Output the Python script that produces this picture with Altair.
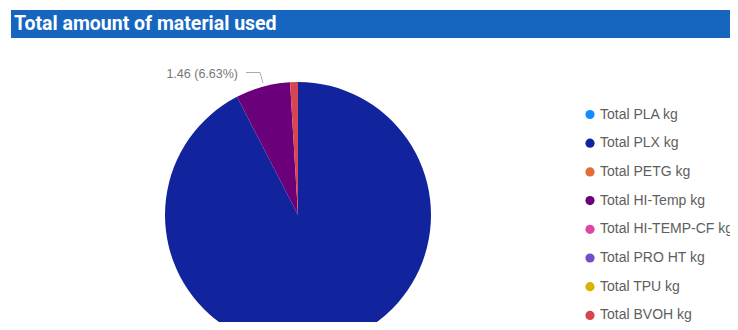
import altair as alt
import pandas as pd

title_text = "Total amount of material used"
materials = ["Total PLA kg", "Total PLX kg", "Total PETG kg", "Total HI-Temp kg",
             "Total HI-TEMP-CF kg", "Total PRO HT kg", "Total TPU kg", "Total BVOH kg"]
values = [0.0, 20.35, 0.0, 1.46, 0.0, 0.0, 0.0, 0.21]
colors = ["#118DFF", "#12239E", "#E66C37", "#6B007B",
          "#E044A7", "#744EC2", "#D9B300", "#D64550"]
labelled = "Total HI-Temp kg"

total = sum(values)
df = pd.DataFrame({"material": materials, "value": values, "idx": list(range(len(materials)))})
lab_val = values[materials.index(labelled)]
lab_df = pd.DataFrame({"label": [f"{lab_val:.2f} ({lab_val / total * 100:.2f}%)"]})

W, H = 722, 314
CX, CY, R = 290, 207, 133

font = "Segoe UI, Liberation Sans, sans-serif"

bar = alt.Chart(alt.Data(values=[{"t": title_text}])).mark_rect(color="#1666C0").encode(
    x=alt.value(3), x2=alt.value(W), y=alt.value(2), y2=alt.value(30))
title = alt.Chart(alt.Data(values=[{"t": title_text}])).mark_text(
    align="left", baseline="alphabetic", font="Roboto", fontWeight="bold",
    fontSize=19.5, color="white").encode(
    x=alt.value(6), y=alt.value(22), text="t:N")

pie = alt.Chart(df).mark_arc(outerRadius=R).encode(
    theta=alt.Theta("value:Q", stack=True),
    order=alt.Order("idx:Q"),
    color=alt.Color("material:N",
                    scale=alt.Scale(domain=materials, range=colors),
                    legend=alt.Legend(title=None, orient="none", legendX=575, legendY=99.5,
                                      symbolType="circle", symbolSize=85, symbolStrokeWidth=0,
                                      labelFont=font, labelFontSize=14, labelColor="#605E5C",
                                      labelOffset=3, rowPadding=14.7, padding=0,
                                      labelLimit=300, symbolOffset=0)),
    x=alt.value(CX), y=alt.value(CY))

label = alt.Chart(lab_df).mark_text(align="right", baseline="middle", font=font,
                                   fontSize=12.5, color="#777777").encode(
    x=alt.value(230), y=alt.value(66), text="label:N")
lead1 = alt.Chart(lab_df).mark_rule(color="#AAAAAA", strokeWidth=1).encode(
    x=alt.value(238), x2=alt.value(252), y=alt.value(64.5), y2=alt.value(64.5))
lead2 = alt.Chart(lab_df).mark_rule(color="#AAAAAA", strokeWidth=1).encode(
    x=alt.value(252), x2=alt.value(255), y=alt.value(64.5), y2=alt.value(75))

chart = alt.layer(bar, title, pie, lead1, lead2, label).properties(
    width=W, height=H, padding=0, autosize=alt.AutoSizeParams(type="none"),
    background="white"
).configure_view(stroke=None)

chart.save("out.html", embed_options={"renderer": "svg", "actions": False})
